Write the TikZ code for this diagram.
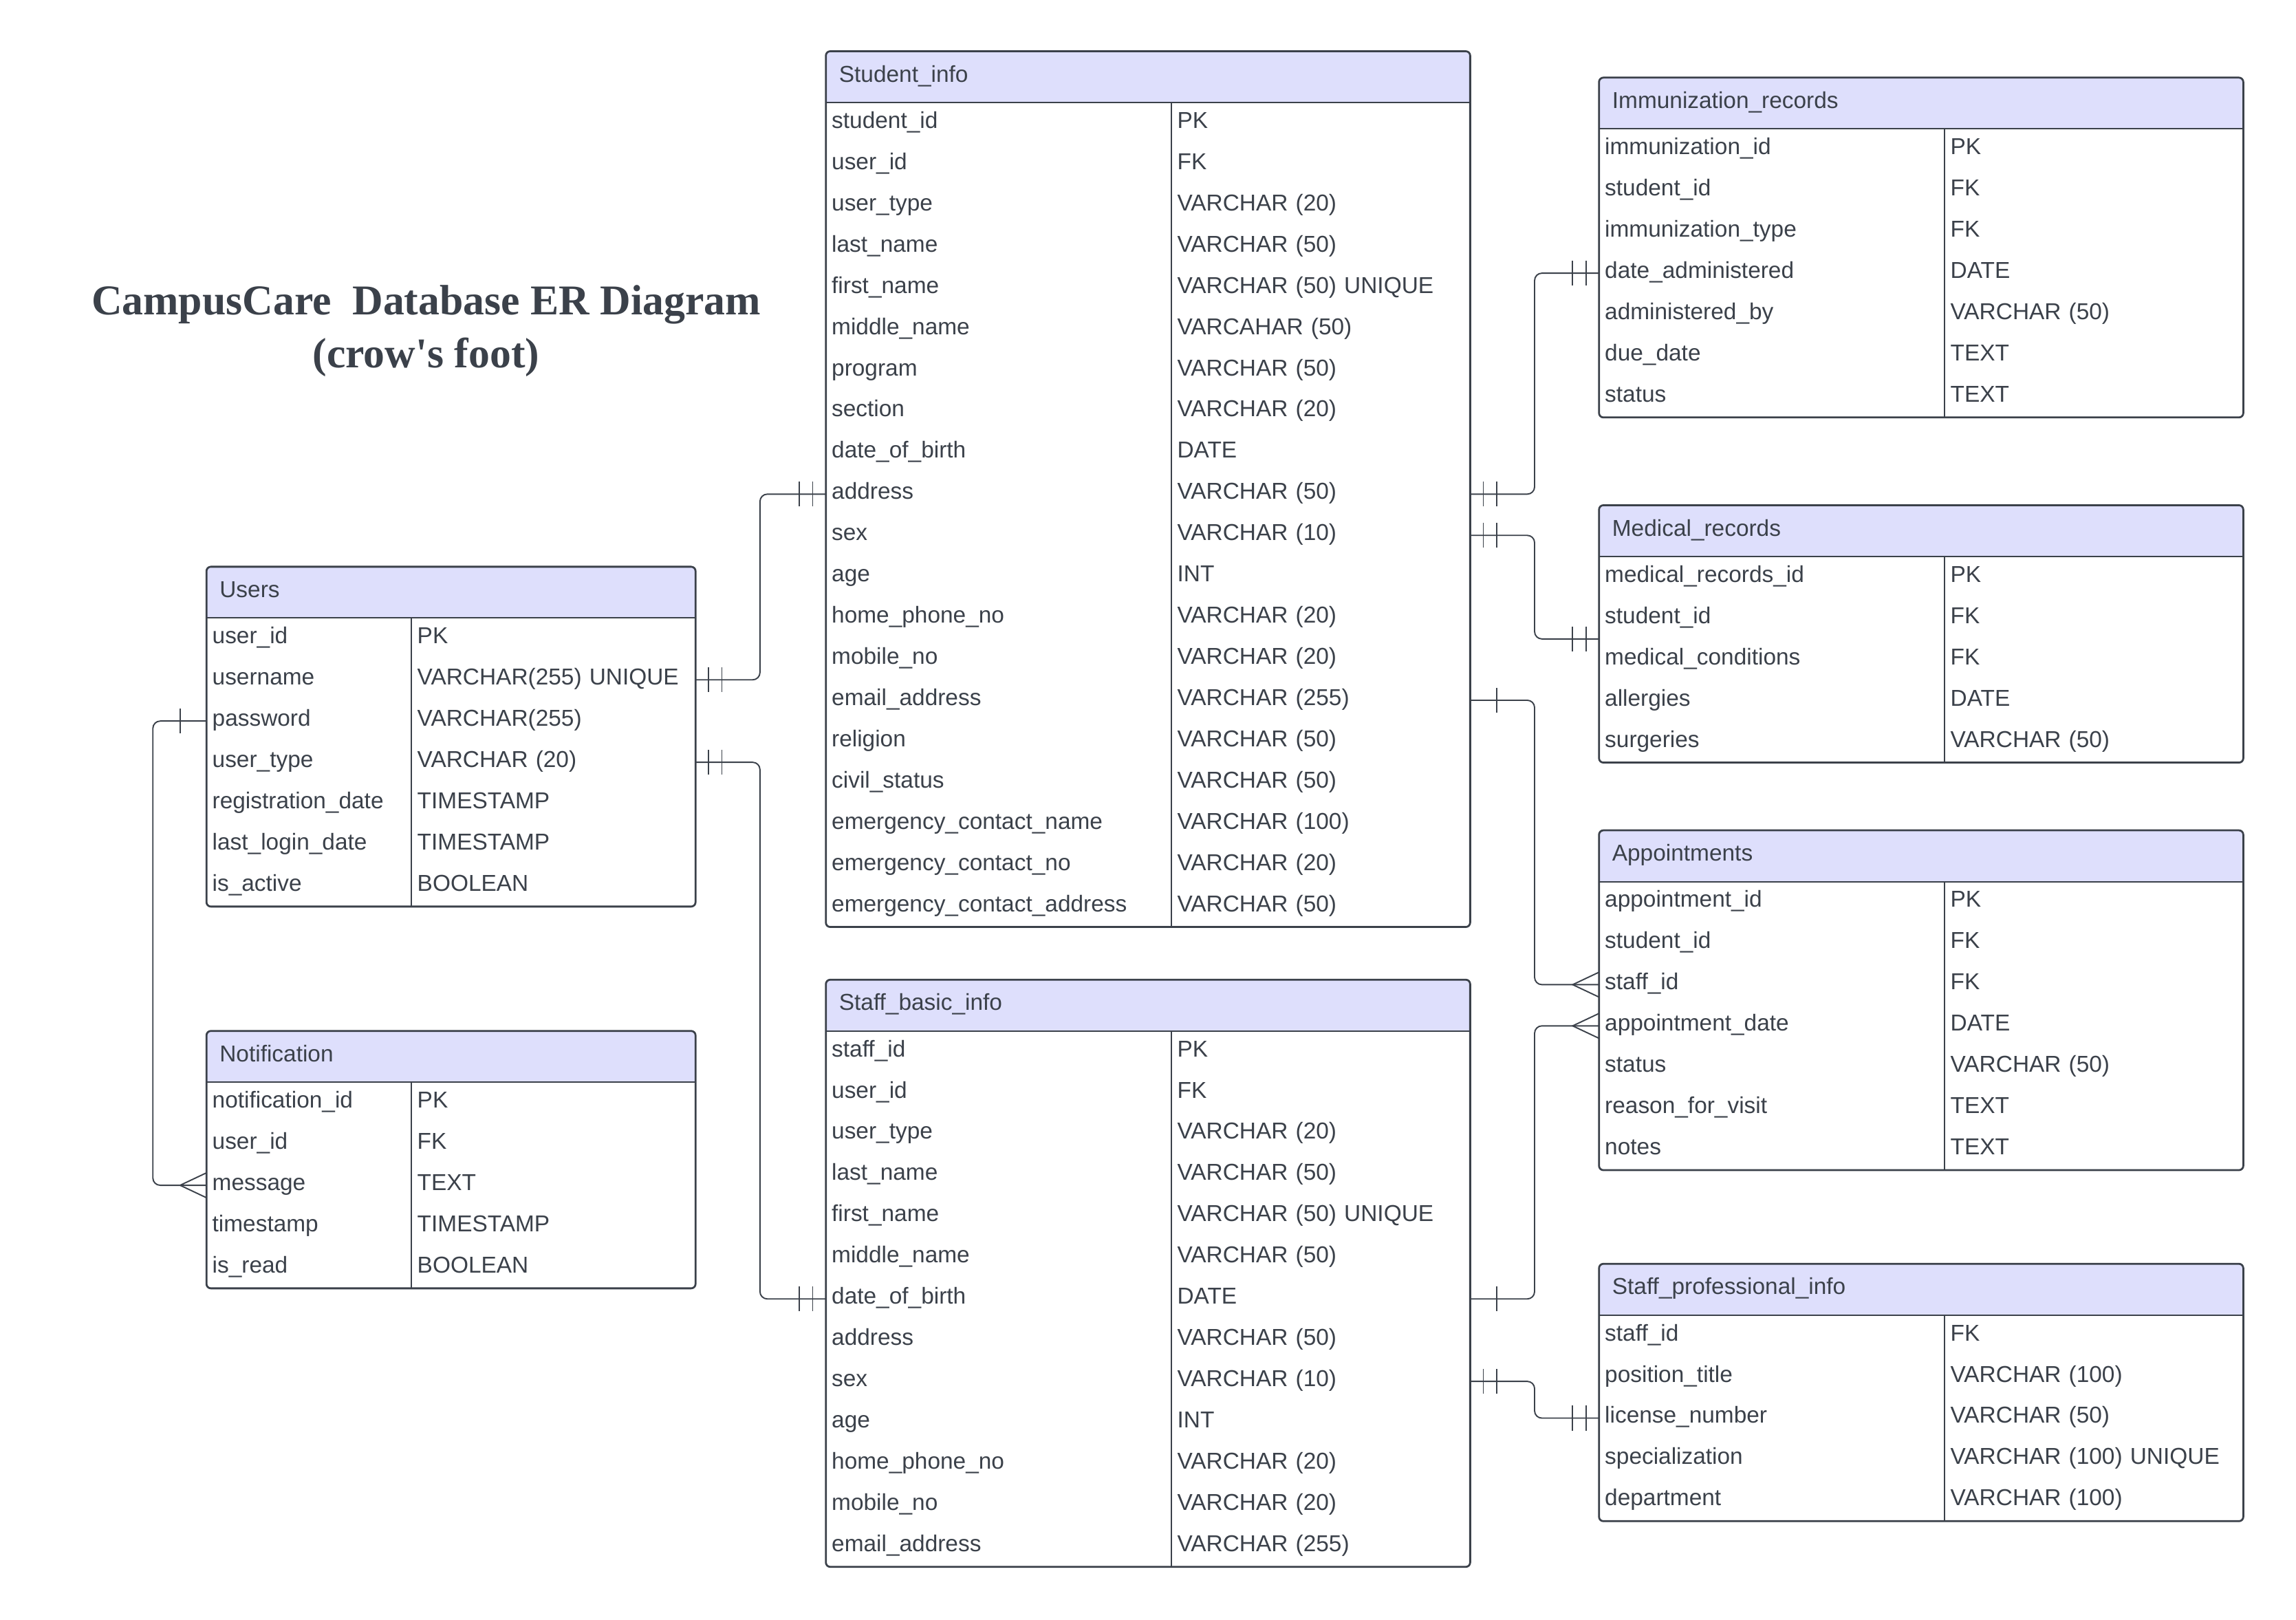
\documentclass[tikz,border=0pt]{standalone}
\usepackage{fontspec}
\setmainfont{Liberation Sans}
\newfontfamily\titlefont{Liberation Serif}
\usepackage{xcolor}
\definecolor{erline}{RGB}{59,65,74}
\definecolor{erhead}{RGB}{222,223,252}

% #1 name, #2 title, #3 x, #4 y, #5 width, #6 first column width, #7 rows
\newcommand{\erTable}[7]{%
  \pgfmathsetmacro\erHW{#5-18}%
  \pgfmathsetmacro\erFW{#6-8}%
  \pgfmathsetmacro\erTW{#5-#6-8}%
  \begin{scope}
    \clip[rounded corners=3pt] (#3,#4) rectangle ++(#5,60);
    \fill[erhead] (#3,#4) rectangle ++(#5,35);
  \end{scope}
  \node[tblhead, text width=\erHW pt] (#1) at (#3,#4) {#2};
  \foreach \fld/\typ [count=\rowi] in {#7} {
    \node[tblcell, text width=\erFW pt] (#1-f\rowi) at ({#3},{#4+35+(\rowi-1)*28.15}) {\mbox{\fld}};
    \node[tblcell, text width=\erTW pt] (#1-t\rowi) at ({#3+#6},{#4+35+(\rowi-1)*28.15}) {\mbox{\typ}};
    \xdef\erN{\rowi}
  }
  \draw[tblline] (#1.south west) -- (#1.south east);
  \draw[tblline] (#1-f1.north east) -- (#1-f\erN.south east);
  \draw[tblframe] (#1.north west) rectangle (#1-t\erN.south east);
}

\begin{document}
\begin{tikzpicture}[
  x=1pt, y=-1pt,
  every node/.style={font=\fontsize{15.7}{18}\selectfont, text=erline},
  tblhead/.style={anchor=north west, inner xsep=9pt, inner ysep=0pt, outer sep=0pt,
    minimum height=35pt, text height=11pt, text depth=4pt, align=left},
  tblcell/.style={anchor=north west, inner xsep=4pt, inner ysep=0pt, outer sep=0pt,
    minimum height=28.15pt, text height=11pt, text depth=4pt, align=left},
  tblline/.style={draw=erline, line width=0.9pt},
  tblframe/.style={draw=erline, line width=1.3pt, rounded corners=3pt},
  rel/.style={draw=erline, line width=0.9pt, rounded corners=5pt},
  cardline/.style={draw=erline, line width=0.9pt, sharp corners},
  ertwo/.pic={\draw[cardline] (9,-8.5) -- (9,8.5) (18,-8.5) -- (18,8.5);},
  erone/.pic={\draw[cardline] (18,-8.5) -- (18,8.5);},
  ercrow/.pic={\draw[cardline] (0,-8.5) -- (18,0) -- (0,8.5);},
  title/.style={font=\titlefont\bfseries\fontsize{29}{36}\selectfont, align=center}
]
\path[use as bounding box, fill=white] (0,0) rectangle (1568,1106.2);

\node[title] (title) at (291,226) {CampusCare\ \ Database ER Diagram\\(crow's foot)};

\erTable{users}{Users}{141}{387}{334}{140}{user\_id/PK, username/VARCHAR(255) UNIQUE,
  password/VARCHAR(255), user\_type/VARCHAR (20), registration\_date/TIMESTAMP,
  last\_login\_date/TIMESTAMP, is\_active/BOOLEAN}

\erTable{notif}{Notification}{141}{704}{334}{140}{notification\_id/PK, user\_id/FK,
  message/TEXT, timestamp/TIMESTAMP, is\_read/BOOLEAN}

\erTable{stu}{Student\_info}{564}{35}{440}{236}{student\_id/PK, user\_id/FK,
  user\_type/VARCHAR (20), last\_name/VARCHAR (50), first\_name/VARCHAR (50) UNIQUE,
  middle\_name/VARCAHAR (50), program/VARCHAR (50), section/VARCHAR (20),
  date\_of\_birth/DATE, address/VARCHAR (50), sex/VARCHAR (10), age/INT,
  home\_phone\_no/VARCHAR (20), mobile\_no/VARCHAR (20), email\_address/VARCHAR (255),
  religion/VARCHAR (50), civil\_status/VARCHAR (50),
  emergency\_contact\_name/VARCHAR (100), emergency\_contact\_no/VARCHAR (20),
  emergency\_contact\_address/VARCHAR (50)}

\erTable{sbi}{Staff\_basic\_info}{564}{669}{440}{236}{staff\_id/PK, user\_id/FK,
  user\_type/VARCHAR (20), last\_name/VARCHAR (50), first\_name/VARCHAR (50) UNIQUE,
  middle\_name/VARCHAR (50), date\_of\_birth/DATE, address/VARCHAR (50),
  sex/VARCHAR (10), age/INT, home\_phone\_no/VARCHAR (20), mobile\_no/VARCHAR (20),
  email\_address/VARCHAR (255)}

\erTable{imm}{Immunization\_records}{1092}{53}{440}{236}{immunization\_id/PK,
  student\_id/FK, immunization\_type/FK, date\_administered/DATE,
  administered\_by/VARCHAR (50), due\_date/TEXT, status/TEXT}

\erTable{med}{Medical\_records}{1092}{345}{440}{236}{medical\_records\_id/PK,
  student\_id/FK, medical\_conditions/FK, allergies/DATE, surgeries/VARCHAR (50)}

\erTable{app}{Appointments}{1092}{567}{440}{236}{appointment\_id/PK, student\_id/FK,
  staff\_id/FK, appointment\_date/DATE, status/VARCHAR (50), reason\_for\_visit/TEXT,
  notes/TEXT}

\erTable{spi}{Staff\_professional\_info}{1092}{863}{440}{236}{staff\_id/FK,
  position\_title/VARCHAR (100), license\_number/VARCHAR (50),
  specialization/VARCHAR (100) UNIQUE, department/VARCHAR (100)}

% relationships
\draw[rel] (users-t2.east) -- ++(44,0) |- (stu-f10.west);
\pic at (users-t2.east) {ertwo};
\pic[xscale=-1] at (stu-f10.west) {ertwo};

\draw[rel] (users-t4.east) -- ++(44,0) |- (sbi-f7.west);
\pic at (users-t4.east) {ertwo};
\pic[xscale=-1] at (sbi-f7.west) {ertwo};

\draw[rel] (users-f3.west) -- ++(-36.6,0) |- (notif-f3.west);
\pic[xscale=-1] at (users-f3.west) {erone};
\pic[xscale=-1] at (notif-f3.west) {ercrow};

\draw[rel] (stu-t10.east) -- ++(44,0) |- (imm-f4.west);
\pic at (stu-t10.east) {ertwo};
\pic[xscale=-1] at (imm-f4.west) {ertwo};

\draw[rel] (stu-t11.east) -- ++(44,0) |- (med-f2.south west);
\pic at (stu-t11.east) {ertwo};
\pic[xscale=-1] at (med-f2.south west) {ertwo};

\draw[rel] (stu-t15.east) -- ++(44,0) |- (app-f3.west);
\pic at (stu-t15.east) {erone};
\pic[xscale=-1] at (app-f3.west) {ercrow};

\draw[rel] (sbi-t7.east) -- ++(44,0) |- (app-f4.west);
\pic at (sbi-t7.east) {erone};
\pic[xscale=-1] at (app-f4.west) {ercrow};

\draw[rel] (sbi-t9.east) -- ++(44,0) |- (spi-f3.west);
\pic at (sbi-t9.east) {ertwo};
\pic[xscale=-1] at (spi-f3.west) {ertwo};
\end{tikzpicture}
\end{document}
